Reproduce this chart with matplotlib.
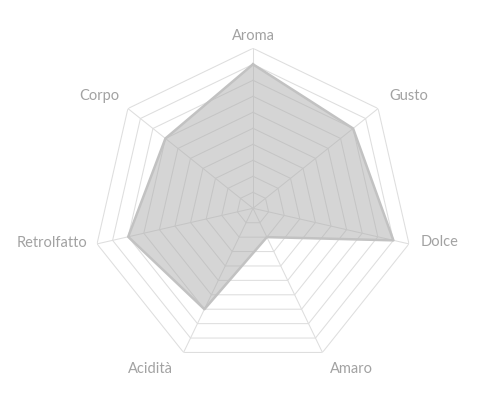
import numpy as np
import matplotlib
matplotlib.use("Agg")
import matplotlib.pyplot as plt

# ---- data ----
categories = ["Aroma", "Gusto", "Dolce", "Amaro", "Acidità", "Retrolfatto", "Corpo"]
values = [9, 8, 9, 2, 7, 8, 7]
scale_max = 10
grid_levels = list(range(1, 11))

# ---- style ----
plt.rcParams['font.family'] = ['Lato', 'DejaVu Sans']
TEXT_COLOR = '#a2a2a2'
GRID_COLOR = '#dedede'
FILL_COLOR = '#adadad'
EDGE_COLOR = '#c2c2c2'
# label offsets in pixels (dx, dy with y up) from the outer vertex, and alignment
LABEL_STYLE = [
    ((0, 12.5), 'center'),
    ((11, 12.8), 'left'),
    ((12, 2), 'left'),
    ((8, -16.8), 'left'),
    ((-10.5, -16.8), 'right'),
    ((-10, 1.2), 'right'),
    ((-9, 12.5), 'right'),
]

fig = plt.figure(figsize=(5, 4), dpi=100)
fig.patch.set_facecolor('white')
cx, cy, R = 253, 208.3, 160
ax = fig.add_axes([(cx - R) / 500, (400 - cy - R) / 400, 2 * R / 500, 2 * R / 400],
                  projection='polar')
ax.set_theta_zero_location('N')
ax.set_theta_direction(-1)
ax.set_ylim(0, scale_max)
ax.grid(False)
ax.spines['polar'].set_visible(False)
ax.set_xticks([])
ax.set_yticks([])
ax.patch.set_alpha(0)

n = len(categories)
theta = np.arange(n) * 2 * np.pi / n
theta_c = np.append(theta, theta[0])

# grid rings
for lv in grid_levels:
    ax.plot(theta_c, [lv] * (n + 1), color=GRID_COLOR, lw=0.75, zorder=1)
# spokes
for t in theta:
    ax.plot([t, t], [0, scale_max], color=GRID_COLOR, lw=0.75, zorder=1)

vals_c = values + values[:1]
ax.fill(theta_c, vals_c, color=FILL_COLOR, alpha=0.5, lw=0, zorder=2)
ax.plot(theta_c, vals_c, color=EDGE_COLOR, lw=1.8, zorder=3)

for t, lab, (off, ha) in zip(theta, categories, LABEL_STYLE):
    ax.annotate(lab, xy=(t, scale_max), xytext=off, textcoords='offset pixels',
                ha=ha, va='center', fontsize=10.5, color=TEXT_COLOR,
                annotation_clip=False)

fig.savefig('out.png', dpi=100, facecolor='white')
